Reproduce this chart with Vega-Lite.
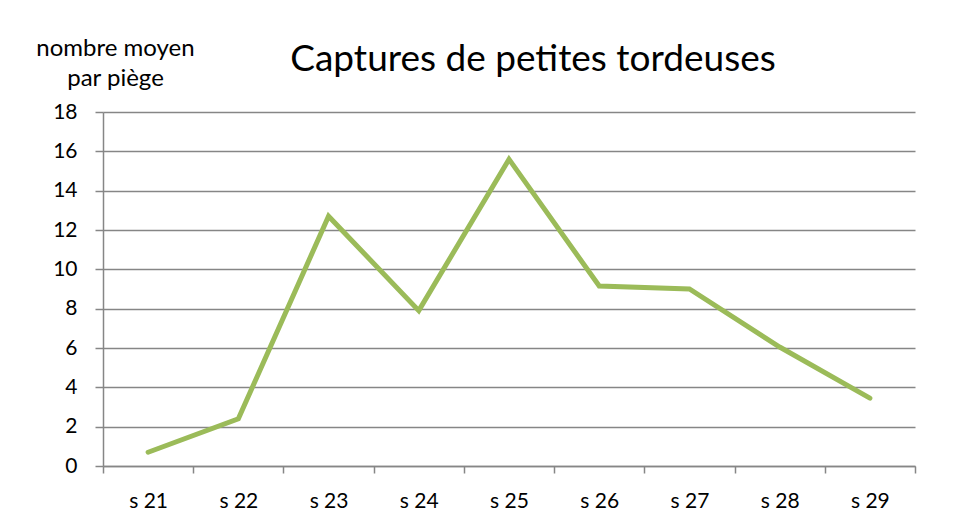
{
  "$schema": "https://vega.github.io/schema/vega-lite/v6.json",
  "autosize": {"type": "none"},
  "width": 812,
  "height": 354,
  "padding": {"left": 103, "top": 112, "right": 39, "bottom": 53},
  "background": "white",
  "title": {
    "text": "Captures de petites tordeuses",
    "font": "Lato",
    "fontSize": 37,
    "fontWeight": "normal",
    "color": "#000000",
    "anchor": "middle",
    "dx": 24,
    "offset": -43
  },
  "data": {
    "values": [
      {"semaine": "s 21", "captures": 0.7},
      {"semaine": "s 22", "captures": 2.4},
      {"semaine": "s 23", "captures": 12.7},
      {"semaine": "s 24", "captures": 7.9},
      {"semaine": "s 25", "captures": 15.6},
      {"semaine": "s 26", "captures": 9.15},
      {"semaine": "s 27", "captures": 9.0},
      {"semaine": "s 28", "captures": 6.05},
      {"semaine": "s 29", "captures": 3.45}
    ]
  },
  "mark": {"type": "line", "color": "#9BBB59", "strokeWidth": 5, "strokeCap": "round", "strokeJoin": "miter"},
  "encoding": {
    "x": {
      "field": "semaine",
      "type": "ordinal",
      "sort": null,
      "scale": {"type": "band", "paddingInner": 0, "paddingOuter": 0},
      "axis": {
        "title": null,
        "labelAngle": 0,
        "labelFont": "Lato",
        "labelFontSize": 21,
        "labelColor": "#000000",
        "labelPadding": 17,
        "domainColor": "#868686",
        "domainWidth": 1.5,
        "tickColor": "#868686",
        "tickWidth": 1.5,
        "tickSize": 7,
        "tickBand": "extent",
        "grid": false
      }
    },
    "y": {
      "field": "captures",
      "type": "quantitative",
      "scale": {"domain": [0, 18], "nice": false},
      "axis": {
        "values": [0, 2, 4, 6, 8, 10, 12, 14, 16, 18],
        "title": ["nombre moyen", "par piège"],
        "titleAngle": 0,
        "titleX": 12,
        "titleY": -57,
        "titleAlign": "center",
        "titleBaseline": "alphabetic",
        "titleFont": "Lato",
        "titleFontSize": 24,
        "titleFontWeight": "normal",
        "titleColor": "#000000",
        "titleLineHeight": 30,
        "labelFont": "Lato",
        "labelFontSize": 21,
        "labelColor": "#000000",
        "labelPadding": 18,
        "domainColor": "#868686",
        "domainWidth": 1.5,
        "tickColor": "#868686",
        "tickWidth": 1.5,
        "tickSize": 8,
        "grid": true,
        "gridColor": "#868686",
        "gridWidth": 1.5
      }
    }
  },
  "config": {"view": {"stroke": null}}
}
